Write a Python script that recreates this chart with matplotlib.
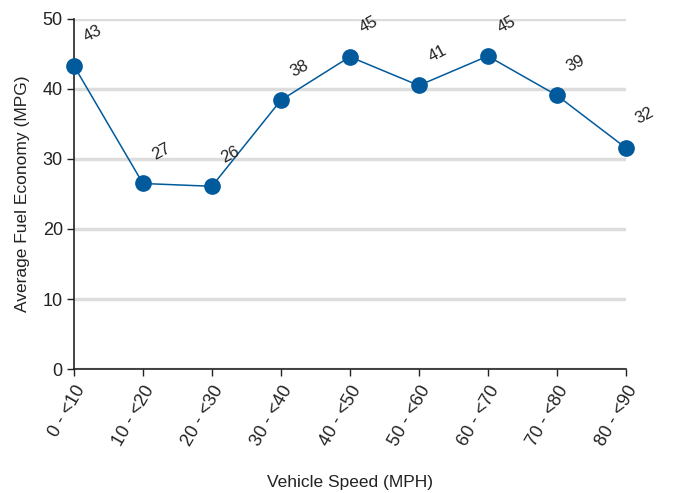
import math
import matplotlib
matplotlib.use("Agg")
import matplotlib.pyplot as plt

categories = ["0 - <10", "10 - <20", "20 - <30", "30 - <40", "40 - <50",
              "50 - <60", "60 - <70", "70 - <80", "80 - <90"]
mpg = [43.3, 26.5, 26.1, 38.4, 44.6, 40.5, 44.7, 39.1, 31.6]

plt.rcParams['font.family'] = ['Liberation Sans', 'DejaVu Sans']

fig = plt.figure(figsize=(6.75, 4.93), dpi=100)
ax = fig.add_axes([0.1096, 0.2515, 0.8174, 0.71])

color = "#005a9c"
x = list(range(len(categories)))
ax.plot(x, mpg, color=color, lw=1.1, marker='o', markersize=11, clip_on=False, zorder=3)
for xi, v in zip(x, mpg):
    ax.annotate(f"{int(math.floor(v + 0.5)):d}", (xi, v), xytext=(10, 15), textcoords='offset points',
                rotation=28, fontsize=12, color='#222222', ha='left', va='bottom',
                rotation_mode='anchor')

ax.set_xlim(0, len(categories) - 1)
ax.set_ylim(0, 50)
ax.set_yticks([0, 10, 20, 30, 40, 50])
ax.set_xticks(x)
ax.set_xticklabels(categories, rotation=60, ha='right', rotation_mode='anchor', fontsize=13)
ax.tick_params(axis='y', labelsize=13, length=5, width=1, colors='#222222', pad=3)
ax.tick_params(axis='x', length=5, width=1, colors='#222222', pad=5)
ax.yaxis.grid(True, color='#dddddd', lw=2.5)
ax.set_axisbelow(True)
for s in ['top', 'right']:
    ax.spines[s].set_visible(False)
for s in ['left', 'bottom']:
    ax.spines[s].set_color('#222222')
    ax.spines[s].set_linewidth(1.2)

ax.set_ylabel("Average Fuel Economy (MPG)", fontsize=12.5, color='#222222', labelpad=9)
ax.set_xlabel("Vehicle Speed (MPH)", fontsize=12.5, color='#222222')
ax.xaxis.set_label_coords(0.5, -0.302)

fig.savefig("out.png", dpi=100)
